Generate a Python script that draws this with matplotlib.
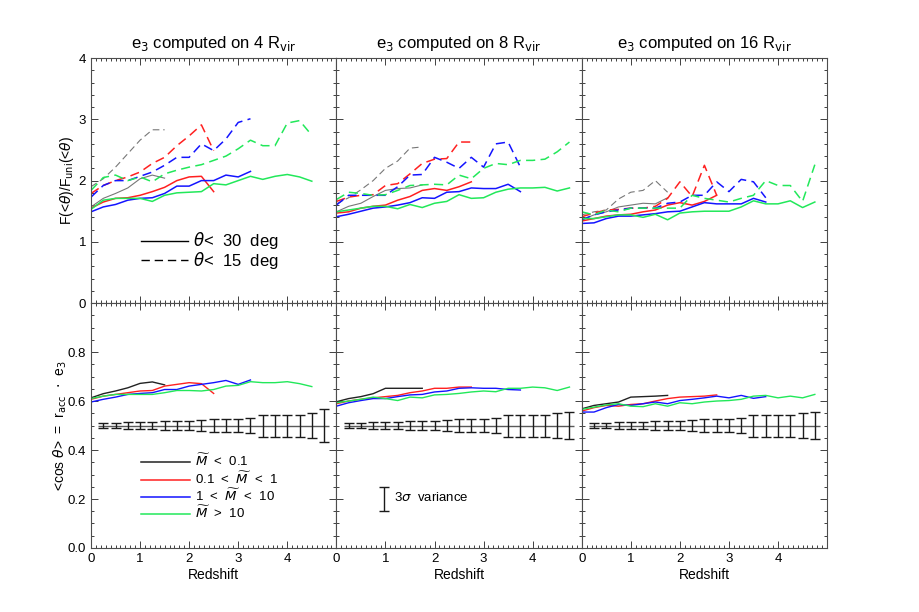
import matplotlib
matplotlib.use("Agg")
import matplotlib.pyplot as plt
import numpy as np
from matplotlib.ticker import MultipleLocator

plt.rcParams['font.family'] = ['Liberation Sans', 'DejaVu Sans']
plt.rcParams['mathtext.fontset'] = 'dejavusans'

# redshift sampling of all curves
redshift = np.arange(0, 5, 0.25)

# F(<theta)/F_uni(<theta), e3 on 4 Rvir  (30 deg solid, 15 deg dashed)
f4_black_30 = [1.57, 1.71, 1.79, 1.88, 2.03, 2.09, 2.04]
f4_black_15 = [1.90, 2.03, 2.22, 2.44, 2.66, 2.83, 2.83]
f4_red_30 = [1.55, 1.65, 1.71, 1.72, 1.76, 1.82, 1.89, 2.0, 2.06, 2.07, 1.82]
f4_red_15 = [1.79, 1.92, 2.0, 2.06, 2.14, 2.28, 2.38, 2.57, 2.73, 2.91, 2.49]
f4_blue_30 = [1.49, 1.57, 1.61, 1.68, 1.71, 1.72, 1.79, 1.91, 1.91, 2.0, 2.0, 2.09, 2.06, 2.15]
f4_blue_15 = [1.73, 1.92, 2.0, 2.0, 2.07, 2.14, 2.25, 2.38, 2.38, 2.60, 2.49, 2.68, 2.95, 3.01]
f4_green_30 = [1.53, 1.68, 1.71, 1.71, 1.71, 1.66, 1.76, 1.80, 1.81, 1.82, 1.95, 1.93, 2.0, 2.07,
               2.02, 2.07, 2.10, 2.06, 1.99]
f4_green_15 = [1.84, 2.05, 2.09, 2.0, 2.06, 1.98, 2.11, 2.17, 2.22, 2.26, 2.33, 2.40, 2.52, 2.66,
               2.57, 2.57, 2.94, 2.98, 2.74]

# e3 on 8 Rvir
f8_black_30 = [1.49, 1.58, 1.63, 1.74, 1.84, 1.87, 1.88, 1.93]
f8_black_15 = [1.62, 1.72, 1.85, 2.0, 2.2, 2.32, 2.53, 2.55]
f8_red_30 = [1.47, 1.49, 1.55, 1.58, 1.60, 1.68, 1.74, 1.84, 1.87, 1.84, 1.90, 1.98]
f8_red_15 = [1.66, 1.73, 1.76, 1.77, 1.92, 1.95, 2.11, 2.28, 2.35, 2.36, 2.63, 2.63]
f8_blue_30 = [1.41, 1.45, 1.50, 1.55, 1.57, 1.60, 1.64, 1.72, 1.71, 1.81, 1.82, 1.88, 1.87, 1.87,
              1.94, 1.82]
f8_blue_15 = [1.60, 1.76, 1.76, 1.76, 1.76, 1.90, 2.09, 2.10, 2.38, 2.30, 2.20, 2.38, 2.22, 2.60,
              2.63, 2.22]
f8_green_30 = [1.49, 1.52, 1.55, 1.58, 1.58, 1.54, 1.61, 1.56, 1.63, 1.66, 1.77, 1.71, 1.72, 1.81,
               1.86, 1.88, 1.88, 1.89, 1.83, 1.88]
f8_green_15 = [1.69, 1.81, 1.79, 1.76, 1.77, 1.84, 1.92, 1.93, 1.94, 1.93, 2.09, 2.03, 2.20, 2.28,
               2.26, 2.33, 2.33, 2.35, 2.47, 2.63]

# e3 on 16 Rvir
f16_black_30 = [1.36, 1.44, 1.49, 1.57, 1.60, 1.63, 1.62, 1.72]
f16_black_15 = [1.44, 1.49, 1.52, 1.70, 1.81, 1.84, 2.0, 1.81]
f16_red_30 = [1.34, 1.38, 1.42, 1.44, 1.45, 1.49, 1.52, 1.60, 1.64, 1.60, 1.66, 1.76]
f16_red_15 = [1.41, 1.47, 1.52, 1.53, 1.55, 1.55, 1.58, 1.71, 1.98, 1.74, 2.25, 1.76]
f16_blue_30 = [1.30, 1.31, 1.38, 1.42, 1.42, 1.44, 1.46, 1.49, 1.50, 1.57, 1.64, 1.62, 1.62, 1.62,
               1.71, 1.65]
f16_blue_15 = [1.36, 1.44, 1.49, 1.52, 1.55, 1.55, 1.55, 1.63, 1.65, 1.76, 1.76, 1.98, 1.82, 2.02,
               1.98, 1.72]
f16_green_30 = [1.38, 1.38, 1.41, 1.44, 1.44, 1.40, 1.45, 1.36, 1.47, 1.49, 1.50, 1.50, 1.50, 1.57,
                1.67, 1.62, 1.62, 1.67, 1.56, 1.65]
f16_green_15 = [1.49, 1.44, 1.52, 1.49, 1.55, 1.55, 1.55, 1.55, 1.55, 1.76, 1.71, 1.68, 1.65, 1.71,
                1.76, 2.0, 1.92, 1.92, 1.66, 2.26]

# <cos theta>
c4_black = [0.613, 0.630, 0.641, 0.654, 0.672, 0.678, 0.666]
c4_red = [0.607, 0.62, 0.627, 0.634, 0.641, 0.643, 0.661, 0.668, 0.675, 0.671, 0.631]
c4_blue = [0.596, 0.607, 0.616, 0.627, 0.631, 0.634, 0.647, 0.647, 0.661, 0.668, 0.675, 0.684,
           0.668, 0.686]
c4_green = [0.61, 0.62, 0.627, 0.627, 0.627, 0.627, 0.634, 0.643, 0.643, 0.641, 0.647, 0.661, 0.664,
            0.679, 0.675, 0.675, 0.679, 0.671, 0.659]

c8_black = [0.597, 0.61, 0.618, 0.630, 0.652, 0.652, 0.652, 0.652]
c8_red = [0.589, 0.6, 0.607, 0.613, 0.618, 0.623, 0.634, 0.641, 0.652, 0.652, 0.657, 0.657]
c8_blue = [0.579, 0.593, 0.602, 0.61, 0.61, 0.618, 0.625, 0.627, 0.637, 0.641, 0.652, 0.654, 0.652,
           0.652, 0.647, 0.645]
c8_green = [0.593, 0.6, 0.607, 0.616, 0.61, 0.602, 0.616, 0.613, 0.625, 0.627, 0.631, 0.637, 0.641,
            0.638, 0.652, 0.652, 0.657, 0.654, 0.643, 0.657]

c16_black = [0.568, 0.582, 0.589, 0.596, 0.616, 0.618, 0.620, 0.623]
c16_red = [0.559, 0.573, 0.582, 0.579, 0.586, 0.589, 0.6, 0.61, 0.616, 0.618, 0.620, 0.625]
c16_blue = [0.555, 0.555, 0.573, 0.586, 0.582, 0.589, 0.596, 0.589, 0.602, 0.607, 0.613, 0.62,
            0.613, 0.623, 0.611, 0.618]
c16_green = [0.566, 0.575, 0.584, 0.589, 0.579, 0.577, 0.589, 0.579, 0.593, 0.589, 0.596, 0.6,
             0.602, 0.607, 0.62, 0.623, 0.613, 0.62, 0.613, 0.627]

# random (isotropic) expectation and its 3 sigma variance
random_z = np.arange(0.25, 5, 0.25)
random_mean = 0.5
err4 = [0.011, 0.011, 0.014, 0.014, 0.016, 0.019, 0.019, 0.019, 0.023, 0.026, 0.026, 0.026, 0.029,
        0.045, 0.045, 0.045, 0.045, 0.052, 0.068]
err8 = [0.011, 0.011, 0.014, 0.014, 0.016, 0.019, 0.019, 0.019, 0.023, 0.026, 0.026, 0.026, 0.029,
        0.045, 0.045, 0.045, 0.045, 0.052, 0.056]
err16 = [0.011, 0.011, 0.014, 0.014, 0.016, 0.019, 0.019, 0.019, 0.023, 0.026, 0.026, 0.026, 0.029,
         0.045, 0.045, 0.045, 0.045, 0.052, 0.056]

radii = ['4', '8', '16']
mass_labels = [r'$\widetilde{M}$  <  0.1', r'0.1  <  $\widetilde{M}$  <  1',
               r'1  <  $\widetilde{M}$  <  10', r'$\widetilde{M}$  >  10']
colors = ['#222222', '#ff2020', '#1414ff', '#22e85a']
top_black = '#777777'

top_data = [
    [(f4_black_30, f4_black_15), (f4_red_30, f4_red_15), (f4_blue_30, f4_blue_15), (f4_green_30, f4_green_15)],
    [(f8_black_30, f8_black_15), (f8_red_30, f8_red_15), (f8_blue_30, f8_blue_15), (f8_green_30, f8_green_15)],
    [(f16_black_30, f16_black_15), (f16_red_30, f16_red_15), (f16_blue_30, f16_blue_15), (f16_green_30, f16_green_15)],
]
bottom_data = [
    [c4_black, c4_red, c4_blue, c4_green],
    [c8_black, c8_red, c8_blue, c8_green],
    [c16_black, c16_red, c16_blue, c16_green],
]
errs = [err4, err8, err16]

fig, axes = plt.subplots(2, 3, figsize=(9.19, 6.12), dpi=100)
fig.subplots_adjust(left=0.099, right=0.900, top=0.905, bottom=0.1046, wspace=0, hspace=0)

dash = (6, 3.5)


def style_axis(ax, ymajor, yminor):
    ax.set_xlim(0, 5)
    ax.xaxis.set_major_locator(MultipleLocator(1))
    ax.xaxis.set_minor_locator(MultipleLocator(0.1))
    ax.yaxis.set_major_locator(MultipleLocator(ymajor))
    ax.yaxis.set_minor_locator(MultipleLocator(yminor))
    ax.tick_params(which='both', direction='in', top=True, right=True, colors='0.25',
                   labelcolor='black', labelsize=9.5, width=0.7)
    ax.tick_params(which='major', length=5)
    ax.tick_params(which='minor', length=2.5)
    for s in ax.spines.values():
        s.set_color('0.3')
        s.set_linewidth(0.8)


for j in range(3):
    ax = axes[0, j]
    for k, (s30, s15) in enumerate(top_data[j]):
        c = top_black if k == 0 else colors[k]
        lw = 0.8 if k == 0 else 1.1
        ax.plot(redshift[:len(s30)], s30, color=c, lw=lw)
        ax.plot(redshift[:len(s15)], s15, color=c, lw=lw, dashes=dash)
    ax.set_ylim(0, 4)
    style_axis(ax, 1, 0.2)
    ax.set_xticklabels([])
    ax.set_title(r'e$_3$ computed on ' + radii[j] + r' R$_{\rm vir}$', fontsize=12, pad=7)

    ax = axes[1, j]
    for k, series in enumerate(bottom_data[j]):
        ax.plot(redshift[:len(series)], series, color=colors[k], lw=1.0)
    ax.hlines(random_mean, random_z[0] - 0.1, random_z[-1] + 0.1, color='0.35', lw=1.0)
    ax.errorbar(random_z, np.full(len(random_z), random_mean), yerr=errs[j], fmt='none',
                ecolor='0.1', elinewidth=1.0, capsize=3.5, capthick=1.0)
    ax.set_ylim(0, 1)
    style_axis(ax, 0.2, 0.05)
    ax.set_xticks([0, 1, 2, 3, 4])
    ax.set_xticklabels(['0', '1', '2', '3', '4'])
    ax.set_xlabel('Redshift', fontsize=10, labelpad=2)

    if j > 0:
        axes[0, j].set_yticklabels([])
        axes[1, j].set_yticklabels([])

axes[0, 0].set_yticks([0, 1, 2, 3, 4])
axes[1, 0].set_yticks([0.0, 0.2, 0.4, 0.6, 0.8])
axes[1, 0].set_yticklabels(['0.0', '0.2', '0.4', '0.6', '0.8'])
axes[0, 0].set_ylabel(r'F(<$\theta$)/F$_{\rm uni}$(<$\theta$)', fontsize=10, labelpad=2)
axes[1, 0].set_ylabel(r'<cos $\theta$>  =  r$_{\rm acc}$  $\cdot$  e$_3$', fontsize=10, labelpad=-1)

# angle legend
ax = axes[0, 0]
ax.plot([1.02, 1.97], [1.02, 1.02], color='black', lw=1.0)
ax.plot([1.02, 1.97], [0.70, 0.70], color='black', lw=1.0, dashes=dash)
ax.text(2.07, 1.02, r'$\theta$<  30  deg', fontsize=12, va='center')
ax.text(2.07, 0.70, r'$\theta$<  15  deg', fontsize=12, va='center')

# mass legend
ax = axes[1, 0]
leg_y = [0.352, 0.278, 0.209, 0.139]
for k in range(4):
    ax.plot([1.02, 2.01], [leg_y[k], leg_y[k]], color=colors[k], lw=1.1)
    ax.text(2.12, leg_y[k] + 0.005, mass_labels[k], fontsize=9.5, va='center')

# variance legend
ax = axes[1, 1]
ax.errorbar([0.98], [0.2], yerr=[0.05], fmt='none', ecolor='0.1', elinewidth=1.0,
            capsize=3.5, capthick=1.0)
ax.text(1.18, 0.205, r'3$\sigma$  variance', fontsize=9.5, va='center')

plt.savefig('out.png', dpi=100)
